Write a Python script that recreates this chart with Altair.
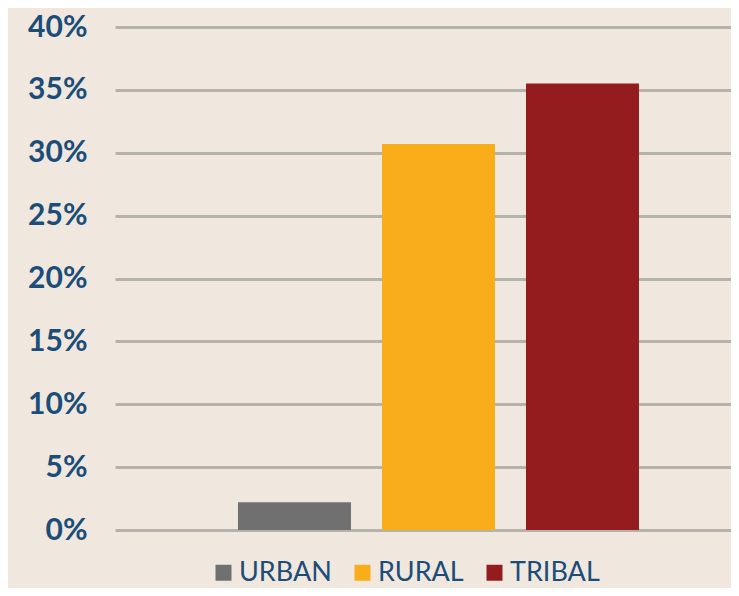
import altair as alt
import pandas as pd

categories = ["URBAN", "RURAL", "TRIBAL"]
values = [0.022, 0.307, 0.355]
colors = ["#707070", "#f9ad1b", "#941c1f"]
tick_values = [0, 0.05, 0.10, 0.15, 0.20, 0.25, 0.30, 0.35, 0.40]

df = pd.DataFrame({"cat": categories, "val": values})

label_blue = "#1c4d78"

chart = alt.Chart(df).mark_bar().encode(
    x=alt.X("cat:N", sort=categories, axis=None,
            scale=alt.Scale(paddingInner=0.2153, paddingOuter=0.7465, align=0.572)),
    y=alt.Y("val:Q",
            scale=alt.Scale(domain=[0, 0.4], nice=False),
            axis=alt.Axis(values=tick_values, format=".0%", title=None,
                          domain=False, ticks=False,
                          labelFont="Lato", labelFontWeight="bold", labelFontSize=30,
                          labelColor=label_blue, labelPadding=28,
                          grid=True, gridColor="#b5b1ab", gridWidth=3, gridOpacity=1)),
    color=alt.Color("cat:N", sort=categories,
                    scale=alt.Scale(domain=categories, range=colors),
                    legend=alt.Legend(title=None, orient="none", direction="horizontal",
                                      legendX=95, legendY=532,
                                      symbolType="square", symbolSize=256,
                                      symbolStrokeWidth=0, symbolOpacity=1,
                                      labelFont="Lato", labelFontSize=27,
                                      labelColor=label_blue, labelOffset=2,
                                      columnPadding=17)),
).properties(
    width=616,
    height=503,
    background="#f0e8df",
    autosize=alt.AutoSizeParams(type="none"),
    padding={"left": 107, "top": 19, "right": 0, "bottom": 58},
).configure_view(stroke=None)

chart.save("out.html", embed_options={"renderer": "svg", "actions": False})
